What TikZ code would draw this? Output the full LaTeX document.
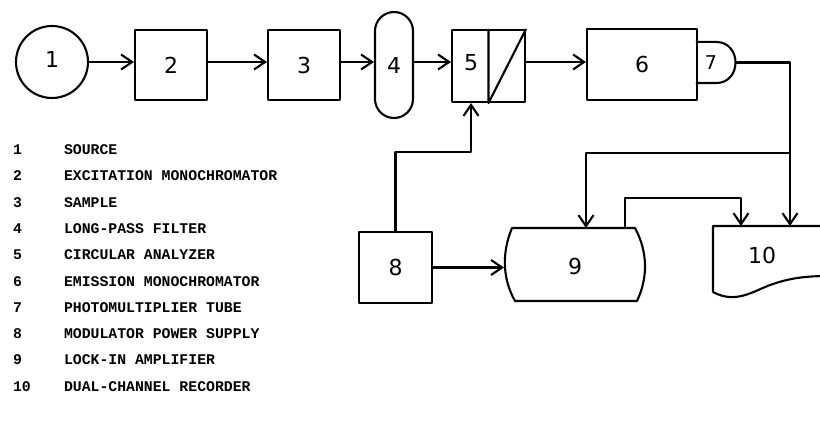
\documentclass[tikz,border=0pt]{standalone}
\usepackage{fontspec}
\usetikzlibrary{arrows.meta}
\newfontfamily\legfont{Liberation Mono}
\newfontfamily\boxfont{DejaVu Sans}
\begin{document}
\begin{tikzpicture}[x=1pt,y=-1pt, line width=2.1pt, line join=round,
  box/.style={draw, rectangle, inner sep=0pt, font=\boxfont\fontsize{22}{22}\selectfont},
  lbl/.style={inner sep=0pt, font=\boxfont\fontsize{22}{22}\selectfont},
  leg/.style={font=\legfont\bfseries\fontsize{14.8}{14.8}\selectfont, anchor=base west, inner sep=0pt},
  arr/.style={-{Straight Barb[length=11pt,width=15pt,line width=2.1pt]}}]
\useasboundingbox (0,0) rectangle (820,441);

% main row
\node[draw, circle, minimum size=72pt, inner sep=0pt] (n1) at (52,62) {};
\node[lbl] (l1) at (52,59) {1};
\node[box, minimum width=72pt, minimum height=70pt] (n2) at (171,65) {2};
\node[box, minimum width=72pt, minimum height=70pt] (n3) at (304,65) {3};
\node[box, rounded corners=19pt, minimum width=38pt, minimum height=106pt] (n4) at (394,65) {4};
\node[box, minimum width=73pt, minimum height=72pt] (n5) at (488.5,66) {};
\draw (n5.north) -- (n5.south) -- (n5.north east);
\node[lbl] (l5) at (471,63) {5};
\node[box, minimum width=110pt, minimum height=71pt] (n6) at (642,64.5) {6};
\node[inner sep=0pt, minimum width=38pt, minimum height=39pt] (n7) at (716,62.5) {};
\draw (n7.north west) -- (n7.north) .. controls +(26,0) and +(26,0) .. (n7.south) -- (n7.south west);
\node[lbl, font=\boxfont\fontsize{19}{19}\selectfont] (l7) at (711,63) {7};

% lower row
\node[box, minimum width=73pt, minimum height=71pt] (n8) at (395.5,267.5) {8};
\node[inner sep=0pt, minimum width=140pt, minimum height=73pt, font=\boxfont\fontsize{22}{22}\selectfont] (n9) at (575,266) {9};
\draw (512,228) -- (635,228) .. controls (648,252) and (648,278) .. (637,301)
      -- (515,301) .. controls (502,278) and (502,252) .. (512,228) -- cycle;
\node[lbl] (n10) at (762,255) {10};
\draw (830,226) -- (713,226) -- (713,292) .. controls (735,304) and (752,292) .. (770,285)
      .. controls (790,278) and (805,276) .. (830,276);

\coordinate (t10a) at (741,226);
\coordinate (t10b) at (790,226);
\coordinate (t9a) at (586,228);
\coordinate (t9b) at (625,228);
\coordinate (j1) at (790,153);

% connectors
\draw[arr] (n1.east) -- (n2.west |- n1.east);
\draw[arr] (n2.east |- n1.east) -- (n3.west |- n1.east);
\draw[arr] (n3.east |- n1.east) -- (n4.west |- n1.east);
\draw[arr] (n4.east |- n1.east) -- (n5.west |- n1.east);
\draw[arr] (n5.east |- n1.east) -- (n6.west |- n1.east);
\draw[arr] (n7.east) -| (t10b);
\draw[arr] (j1) -| (t9a);
\draw[arr] (t9b) -- ++(0,-30) -| (t10a);
\draw[arr] (n8.north) -- ++(0,-79) -| (l5 |- n5.south);
\draw[arr] (n8.east) -- (n9.west |- n8.east);

% legend
\foreach \i/\t [count=\k from 0] in {1/SOURCE, 2/EXCITATION MONOCHROMATOR, 3/SAMPLE,
   4/LONG-PASS FILTER, 5/CIRCULAR ANALYZER, 6/EMISSION MONOCHROMATOR,
   7/PHOTOMULTIPLIER TUBE, 8/MODULATOR POWER SUPPLY, 9/LOCK-IN AMPLIFIER,
   10/DUAL-CHANNEL RECORDER}{
  \node[leg] (k\i) at (12,154.5+26.3*\k) {\i};
  \node[leg] (d\i) at (63,154.5+26.3*\k) {\t};
}
\end{tikzpicture}
\end{document}
